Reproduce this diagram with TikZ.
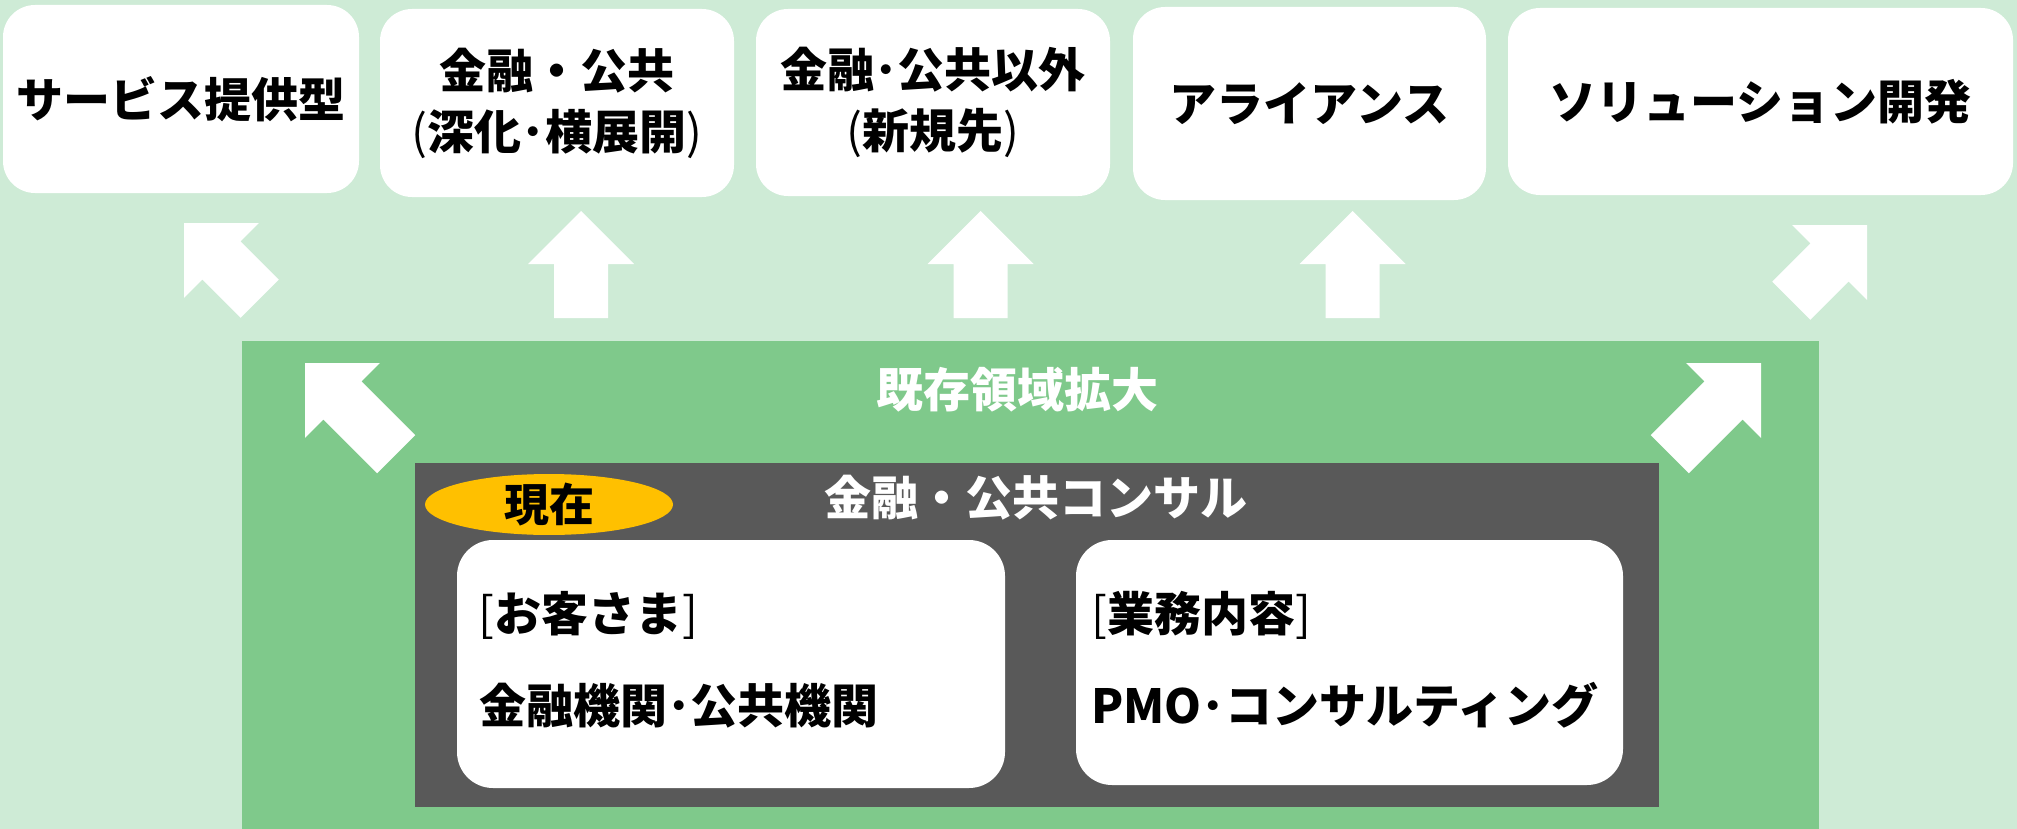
\documentclass[tikz,border=0pt]{standalone}
\usepackage{fontspec}
\setmainfont{Noto Sans CJK JP}
\usetikzlibrary{shapes.geometric}
\definecolor{bgG}{RGB}{206,235,214}
\definecolor{midG}{RGB}{127,201,139}
\definecolor{darkG}{RGB}{89,89,89}
\definecolor{gold}{RGB}{255,192,0}
\newcommand{\thin}[1]{{\mdseries #1}}
\tikzset{
 topbox/.style={fill=white, rounded corners=16pt, inner sep=0pt, align=center, font=\bfseries\fontsize{23.5}{30.5}\selectfont, text=black},
 innerbox/.style={fill=white, rounded corners=18pt, inner sep=0pt},
 lbl/.style={font=\bfseries\fontsize{23.5}{30.5}\selectfont, inner sep=0pt},
 pics/barrow/.style={code={\fill[white] (0,0) -- (-53,53) -- (-27,53) -- (-27,#1) -- (27,#1) -- (27,53) -- (53,53) -- cycle;}}
}
\begin{document}
\begin{tikzpicture}[x=0.5pt,y=-0.5pt]
\useasboundingbox (0,0) rectangle (2017,829);
\fill[bgG] (0,0) rectangle (2017,829);
% top boxes
\node[topbox, minimum width=178pt, minimum height=94pt] (b1) at (181,99) {サービス提供型};
\node[topbox, minimum width=177pt, minimum height=94pt] (b2) at (557,103) {金融・公共\\\thin{(}深化･横展開\thin{)}};
\node[topbox, minimum width=177pt, minimum height=93.5pt] (b3) at (933,102.5) {金融･公共以外\\\thin{(}新規先\thin{)}};
\node[topbox, minimum width=176.5pt, minimum height=96.5pt] (b4) at (1309.5,103.5) {アライアンス};
\node[topbox, minimum width=252.5pt, minimum height=93.5pt] (b5) at (1760.5,101.5) {ソリューション開発};
% top arrows
\pic[rotate=45] at (184,223) {barrow=107};
\pic at (581,211) {barrow=107};
\pic at (980.5,211) {barrow=107};
\pic at (1352.5,211) {barrow=107};
\pic[rotate=-45] at (1867,225) {barrow=107};
% existing area
\node[fill=midG, minimum width=788.5pt, minimum height=244pt, inner sep=0pt] (area) at (1030.5,585) {};
\node[lbl, text=white] (areat) at (1017,390) {既存領域拡大};
\pic[rotate=45] at (305,363) {barrow=129};
\pic[rotate=-45] at (1761,363) {barrow=129};
% current consulting
\node[fill=darkG, minimum width=622pt, minimum height=172pt, inner sep=0pt] (cons) at (1037,635) {};
\node[lbl, text=white] (const) at (1036,498) {金融・公共コンサル};
\node[ellipse, fill=gold, minimum width=124pt, minimum height=28.5pt, inner sep=0pt, font=\bfseries\fontsize{22.5}{27}\selectfont] (now) at (549,504.5) {現在};
\node[innerbox, minimum width=274pt, minimum height=124pt] (cust) at (731,664) {};
\node[innerbox, minimum width=273.5pt, minimum height=122.5pt] (work) at (1349.5,662.5) {};
\node[lbl, anchor=west] (c1) at (478,615) {\thin{[}お客さま\thin{]}};
\node[lbl, anchor=west] (c2) at (479,706) {金融機関･公共機関};
\node[lbl, anchor=west] (w1) at (1091,615) {\thin{[}業務内容\thin{]}};
\node[lbl, anchor=west] (w2) at (1091,705) {PMO･コンサルティング};
\end{tikzpicture}
\end{document}
